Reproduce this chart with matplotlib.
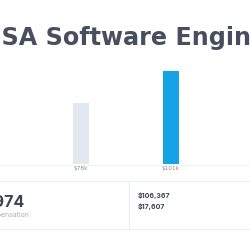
import matplotlib
matplotlib.use('Agg')
import matplotlib.pyplot as plt
from matplotlib.lines import Line2D

# Data
categories = ['$78k', '$101k']
salaries_k = [78, 101]
bar_colors = ['#e1e8ef', '#14a4e6']
title = 'USA Software Engineer Salary'
big_number = '$89,974'
big_caption = 'Total Compensation'
side_values = ['$106,367', '$17,607']

W = 250.0
fig = plt.figure(figsize=(2.5, 2.5), dpi=100)
fig.patch.set_facecolor('white')

# Title (left edge cropped in the reference)
fig.text(-18 / W, 1 - 38 / W, title, fontsize=17.2, fontweight='bold',
         color='#474f5e', family='DejaVu Sans', ha='left', va='center')

# Bar chart
ax = fig.add_axes([0, 1 - 164 / W, 1, 104 / W])
x = range(len(categories))
ax.bar(x, salaries_k, width=16 / 90, color=bar_colors, zorder=2)
ax.set_xlim(-81 / 90, (W - 81) / 90)
ax.set_ylim(34.2, 109)
ax.axis('off')
for xi, lab in zip(x, categories):
    ax.text(xi, 34.2 - 3.0, lab, ha='center', va='center', fontsize=4.2,
            color='#8a9099')

# Baseline and summary box
fig.add_artist(Line2D([0, 1], [1 - 164.5 / W] * 2, color='#f1f3f5', lw=0.8))
fig.add_artist(Line2D([0, 1], [1 - 180.5 / W] * 2, color='#eceff2', lw=0.8))
fig.add_artist(Line2D([0, 1], [1 - 229 / W] * 2, color='#eceff2', lw=0.8))
fig.add_artist(Line2D([128.5 / W] * 2, [1 - 181 / W, 1 - 229 / W],
                      color='#eceff2', lw=0.8))

fig.text(24 / W, 1 - 201 / W, big_number, fontsize=11.5, fontweight='bold',
         color='#3d4451', family='Inter', ha='right', va='center')
fig.text(29 / W, 1 - 215 / W, big_caption, fontsize=5, color='#aab1ba',
         family='Inter', ha='right', va='center')

for i, val in enumerate(side_values):
    fig.text(138 / W, 1 - (195.5 + 11.5 * i) / W, val, fontsize=5,
             fontweight='bold', color='#3d4451', family='Inter',
             ha='left', va='center')

fig.savefig('out.png', dpi=100, facecolor='white')
